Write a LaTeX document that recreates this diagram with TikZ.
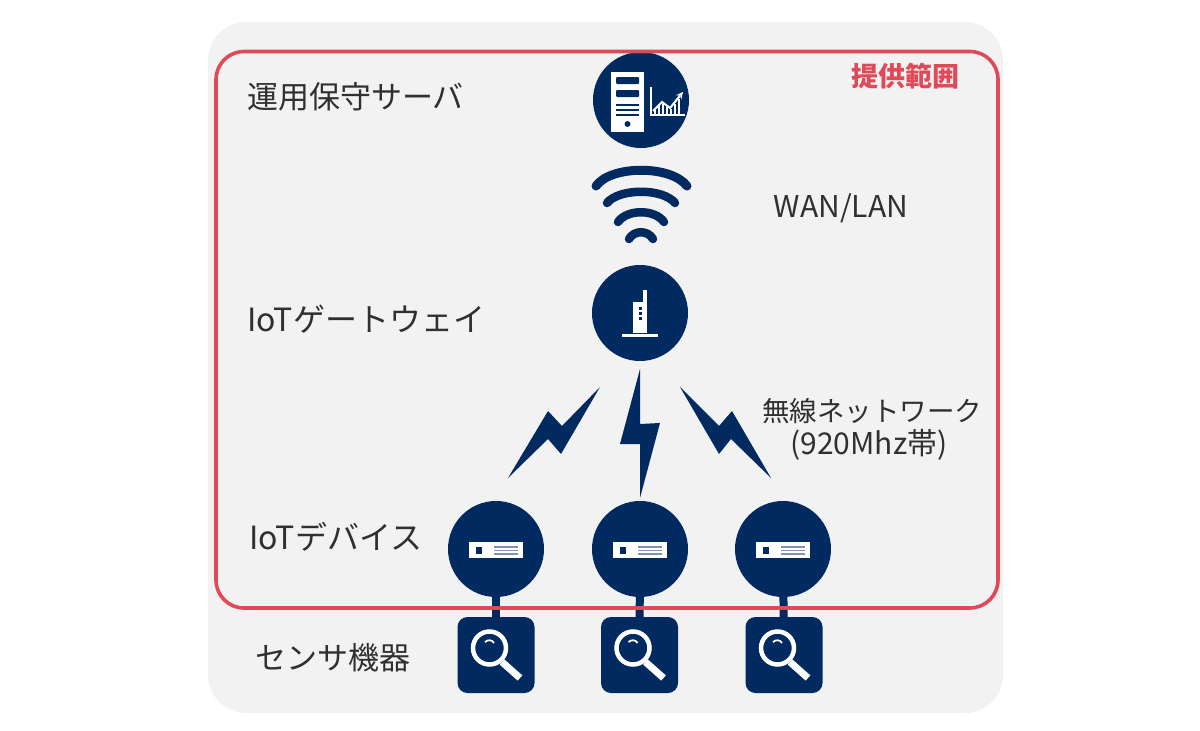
\documentclass[tikz,border=0pt]{standalone}
\usepackage{fontspec}
\setmainfont{Noto Sans CJK JP}
\definecolor{navy}{HTML}{002A60}
\definecolor{panel}{HTML}{F2F2F2}
\definecolor{frame}{HTML}{E04A58}
\definecolor{stripe}{HTML}{7F94B0}
\definecolor{labeltext}{HTML}{303030}
\tikzset{
  roundicon/.style={circle,fill=navy,minimum size=96pt,inner sep=0pt},
  sensorbox/.style={rounded corners=10pt,fill=navy,minimum width=77pt,minimum height=76pt,inner sep=0pt},
  rowlabel/.style={anchor=west,inner sep=0pt,text=labeltext,font=\fontsize{31}{33}\selectfont},
  netlabel/.style={inner sep=0pt,text=labeltext,font=\fontsize{27.5}{35}\selectfont,align=center},
  wave/.style={draw=navy,line cap=round},
  bolt/.style={fill=navy},
  link/.style={draw=navy,line width=8pt}
}
% white box on a device circle
\newcommand{\deviceicon}[1]{
\begin{scope}[shift={(#1)}]
\fill[white] (-27,-7) rectangle (27,9);
\fill[navy] (-20,-2) rectangle (-14,5);
\draw[stripe,line width=1.7pt] (-2,-2) -- (22,-2);
\draw[stripe,line width=1.7pt] (-2,1.5) -- (22,1.5);
\draw[stripe,line width=1.7pt] (-2,5) -- (22,5);
\end{scope}
}
% magnifier on a sensor box
\newcommand{\sensoricon}[1]{
\begin{scope}[shift={(#1)}]
\draw[white,line width=4.5pt] (-6.5,-7) circle (16.5);
\draw[white,line width=7pt] (6,7) -- (24,23);
\draw[white,line width=1.8pt] (-11,-13) .. controls (-8,-15.5) and (-4,-15.5) .. (-2,-12);
\end{scope}
}

\begin{document}
\begin{tikzpicture}[x=1pt,y=-1pt]
\useasboundingbox (0,0) rectangle (1200,731);
\fill[white] (0,0) rectangle (1200,731);
\fill[panel,rounded corners=38pt] (208,22) rectangle (1003,713); %panel

\node[roundicon] (server) at (641,100) {}; %server
\node[roundicon] (gateway) at (640,313) {}; %gateway
\node[roundicon] (dev1) at (496,549) {}; %devices
\node[roundicon] (dev2) at (640,549) {};
\node[roundicon] (dev3) at (783,549) {};
\node[sensorbox] (sens1) at (496,655) {}; %sensors
\node[sensorbox] (sens2) at (639.5,655) {};
\node[sensorbox] (sens3) at (784,655) {};

\draw[link] (dev1) -- (sens1);
\draw[link] (dev2) -- (sens2);
\draw[link] (dev3) -- (sens3);

\draw[frame,line width=3.6pt,rounded corners=28pt] (216,51.5) rectangle (998,608); %offered range

\fill[white] (611,72) rectangle (644,132); %server icon
\fill[navy,rounded corners=1pt] (616,77) rectangle (639,84);
\fill[navy,rounded corners=1pt] (616,90) rectangle (639,97);
\fill[navy] (616,103.5) rectangle (639,106);
\fill[navy] (616,108.5) rectangle (639,111);
\fill[navy] (616,113.5) rectangle (639,116);
\fill[navy] (627.5,124) circle (3);
\draw[white,line width=1.5pt] (651,87) -- (651,115) -- (685,115); %chart
\draw[white,line width=2pt,->,>=stealth] (653,111) -- (662,102) -- (670,108) -- (683,92);
\draw[white,line width=1.8pt] (655,114) -- (655,109);
\draw[white,line width=1.8pt] (659,114) -- (659,106);
\draw[white,line width=1.8pt] (663,114) -- (663,104);
\draw[white,line width=1.8pt] (667,114) -- (667,107);
\draw[white,line width=1.8pt] (671,114) -- (671,109);
\draw[white,line width=1.8pt] (675,114) -- (675,104);
\draw[white,line width=1.8pt] (679,114) -- (679,99);

\draw[wave,line width=9pt] (596,186) .. controls (611,165) and (671,165) .. (687,186); %wifi
\draw[wave,line width=8.5pt] (607,203) .. controls (619,188) and (663,188) .. (675,203);
\draw[wave,line width=8.5pt] (618,222) .. controls (627,209) and (655,209) .. (664,222);
\draw[wave,line width=8.5pt] (629,239) .. controls (634,230) and (648,230) .. (653,239);

\fill[white] (633,302) rectangle (647,333); %gateway icon
\fill[white] (643,290) rectangle (647,302);
\fill[white] (622,333.5) rectangle (658,337);
\fill[navy] (638.5,306.5) rectangle (641.5,309.5);
\fill[navy] (638.5,311.5) rectangle (641.5,314.5);
\fill[navy] (638.5,317) rectangle (641.5,320);

\fill[bolt] (600,387) -- (562,426) -- (548,411) -- (508,478) -- (548,439) -- (561,454) -- cycle; %bolts
\fill[bolt] (640,369) -- (620,444) -- (640,444) -- (640,498) -- (660,423) -- (640,424) -- cycle;
\fill[bolt] (680,387) -- (719,426) -- (732,411) -- (771,478) -- (731,439) -- (719,454) -- cycle;

\deviceicon{496,549}
\deviceicon{640,549}
\deviceicon{783,549}
\sensoricon{496,655}
\sensoricon{639.5,655}
\sensoricon{784,655}

\node[rowlabel] (lblserver) at (247,97) {運用保守サーバ};
\node[rowlabel,font=\fontsize{32}{34}\selectfont] (lblgateway) at (247,319) {IoTゲートウェイ};
\node[rowlabel,font=\fontsize{32}{34}\selectfont] (lbldevice) at (249,537) {IoTデバイス};
\node[rowlabel] (lblsensor) at (255,658) {センサ機器};
\node[netlabel,font=\fontsize{30}{32}\selectfont] (lblwan) at (841,208) {WAN/LAN};
\node[netlabel] (lblradio) at (872,411) {無線ネットワーク};
\node[netlabel,font=\fontsize{30}{32}\selectfont] (lblband) at (869,445) {(920Mhz帯)};
\node[inner sep=0pt,text=frame,font=\fontsize{27}{30}\selectfont\bfseries] (lblrange) at (905.5,76) {提供範囲};
\end{tikzpicture}
\end{document}
